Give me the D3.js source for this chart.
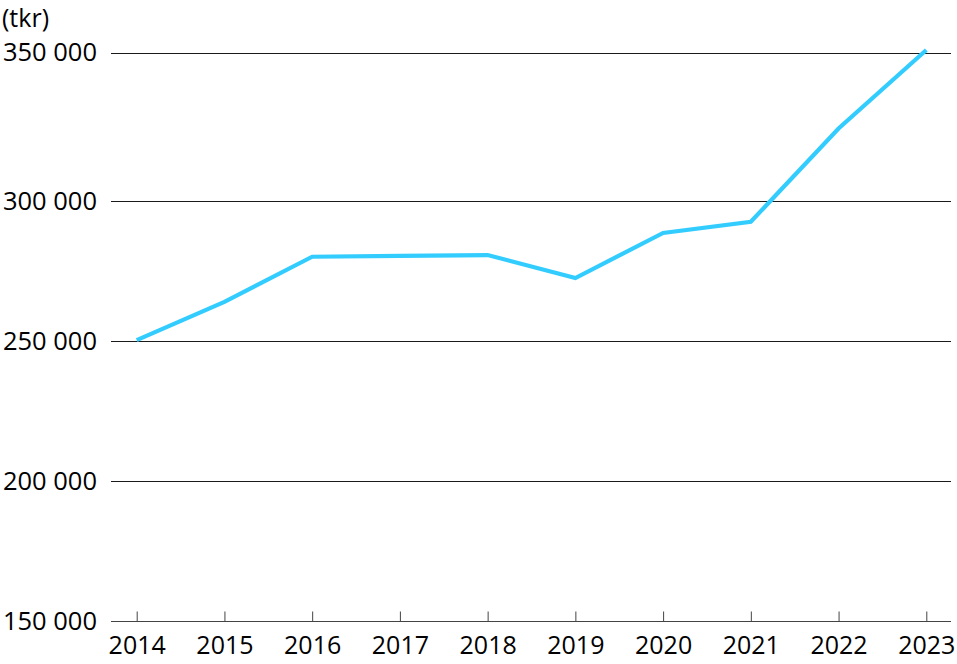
<!DOCTYPE html>
<html><head><meta charset="utf-8">
<script src="https://cdn.jsdelivr.net/npm/d3@7"></script>
<style>
html,body{margin:0;padding:0;background:#fff;}
text{font-family:"Open Sans",sans-serif;fill:#000;}
</style></head>
<body>
<svg id="chart" width="957" height="664"></svg>
<script>
const years = ["2014","2015","2016","2017","2018","2019","2020","2021","2022","2023"];
const values = [250400, 264100, 280200, 280500, 280800, 272600, 288700, 292700, 324500, 350900];
const yTicks = [150000, 200000, 250000, 300000, 350000];
const unitLabel = "(tkr)";

const svg = d3.select("#chart");
const x = d3.scalePoint().domain(years).range([136.7, 926.3]);
const y = d3.scaleLinear().domain([150000, 300000, 350000]).range([621.3, 201.3, 52.7]);
const fmt = v => d3.format(",")(v).replace(/,/g, " ");

// gridlines
svg.append("g").selectAll("line").data(yTicks.slice(1)).join("line")
  .attr("x1", 111).attr("x2", 951)
  .attr("y1", d => Math.round(y(d)) + 0.5).attr("y2", d => Math.round(y(d)) + 0.5)
  .attr("stroke", "#1a1a1a").attr("stroke-width", 1);

// y labels
svg.append("g").selectAll("text").data(yTicks).join("text")
  .attr("x", 97).attr("y", d => y(d)).attr("dy", "0.33em")
  .attr("text-anchor", "end").attr("font-size", 25.5)
  .text(fmt);

svg.append("text").attr("x", 2).attr("y", 27).attr("font-size", 25).text(unitLabel);

// x axis
const xAxis = d3.axisBottom(x).tickSizeInner(-10).tickSizeOuter(0).tickPadding(15);
const gx = svg.append("g").attr("transform", `translate(0,${Math.round(y(150000)) + 0.5})`).call(xAxis);
gx.select(".domain").attr("d", "M111,0H951").attr("stroke", "#444");
gx.selectAll(".tick line").attr("stroke", "#444");
gx.selectAll(".tick text").attr("font-size", 25).attr("font-family", "Open Sans").attr("fill", "#000");

// line
const line = d3.line().x((d, i) => x(years[i])).y(d => y(d));
svg.append("path").datum(values)
  .attr("d", line).attr("fill", "none")
  .attr("stroke", "#33ccff").attr("stroke-width", 4.2);
</script>
</body></html>
